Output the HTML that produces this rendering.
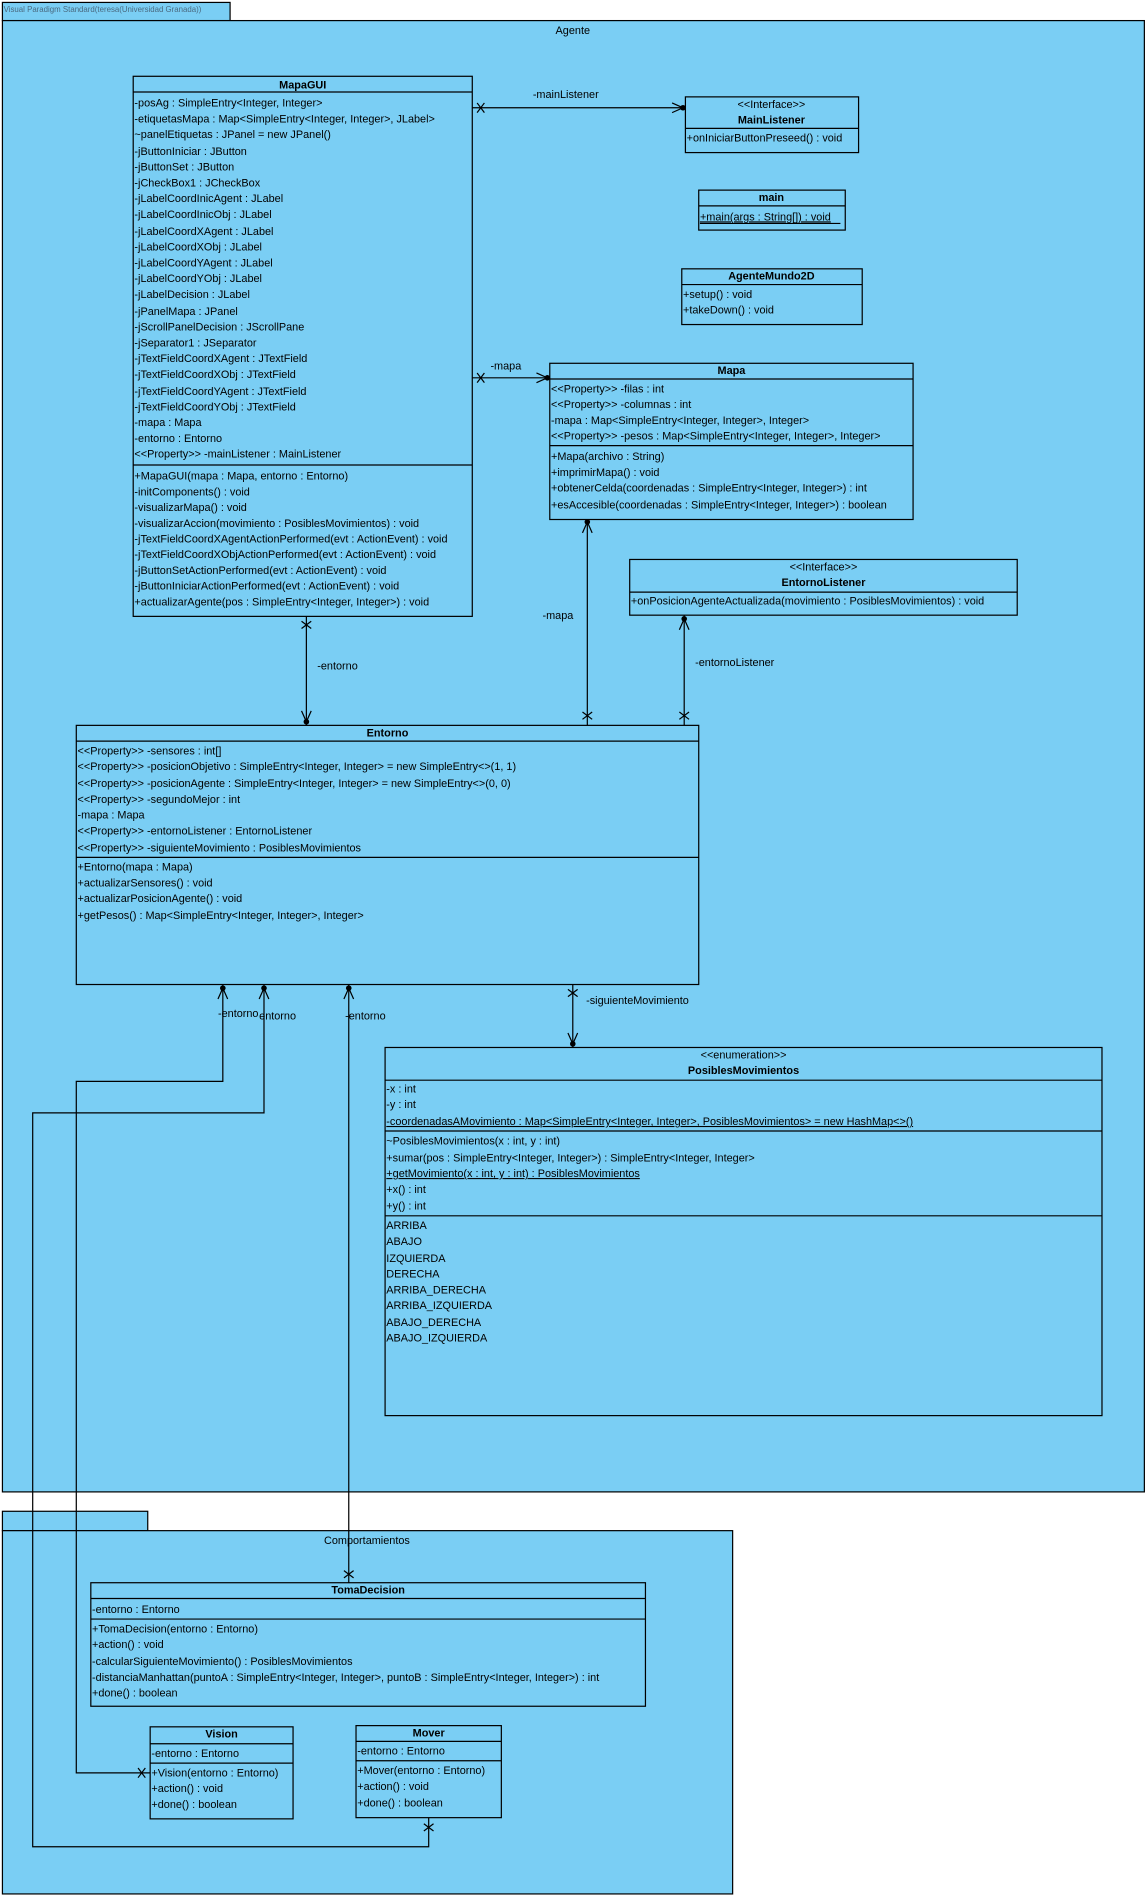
<!DOCTYPE html>
<html><head><meta charset="utf-8"><style>
html,body{margin:0;padding:0;background:#fff;}
svg{display:block;}
text{font-family:"Liberation Sans","DejaVu Sans",sans-serif;font-size:9px;fill:#000;}
.b{font-weight:bold;}
.m{text-anchor:middle;}
rect{fill:#7acef4;stroke:#000;stroke-width:1;}
line,polyline{stroke:#000;stroke-width:1;fill:none;}
</style></head><body>
<svg width="1148" height="1896" viewBox="0 0 948 1565.7" preserveAspectRatio="none" xmlns="http://www.w3.org/2000/svg">
<!-- Agente package -->
<rect x="2" y="2" width="188" height="15"/>
<text x="3" y="10" style="font-size:6.5px;fill:#4a6a80">Visual Paradigm Standard(teresa(Universidad Granada))</text>
<rect x="2" y="17" width="943" height="1215"/>
<text x="473" y="28" class="m">Agente</text>

<!-- MapaGUI -->
<rect x="110" y="63" width="280" height="446"/>
<line x1="110" y1="76" x2="390" y2="76"/>
<line x1="110" y1="384" x2="390" y2="384"/>
<text x="250" y="73" class="m b">MapaGUI</text>
<g transform="translate(111,0)">
<text y="88">-posAg : SimpleEntry&lt;Integer, Integer&gt;</text>
<text y="101">-etiquetasMapa : Map&lt;SimpleEntry&lt;Integer, Integer&gt;, JLabel&gt;</text>
<text y="114">~panelEtiquetas : JPanel = new JPanel()</text>
<text y="128">-jButtonIniciar : JButton</text>
<text y="141">-jButtonSet : JButton</text>
<text y="154">-jCheckBox1 : JCheckBox</text>
<text y="167">-jLabelCoordInicAgent : JLabel</text>
<text y="180">-jLabelCoordInicObj : JLabel</text>
<text y="194">-jLabelCoordXAgent : JLabel</text>
<text y="207">-jLabelCoordXObj : JLabel</text>
<text y="220">-jLabelCoordYAgent : JLabel</text>
<text y="233">-jLabelCoordYObj : JLabel</text>
<text y="246">-jLabelDecision : JLabel</text>
<text y="260">-jPanelMapa : JPanel</text>
<text y="273">-jScrollPanelDecision : JScrollPane</text>
<text y="286">-jSeparator1 : JSeparator</text>
<text y="299">-jTextFieldCoordXAgent : JTextField</text>
<text y="312">-jTextFieldCoordXObj : JTextField</text>
<text y="326">-jTextFieldCoordYAgent : JTextField</text>
<text y="339">-jTextFieldCoordYObj : JTextField</text>
<text y="352">-mapa : Mapa</text>
<text y="365">-entorno : Entorno</text>
<text y="378">&lt;&lt;Property&gt;&gt; -mainListener : MainListener</text>
<text y="396">+MapaGUI(mapa : Mapa, entorno : Entorno)</text>
<text y="409">-initComponents() : void</text>
<text y="422">-visualizarMapa() : void</text>
<text y="435">-visualizarAccion(movimiento : PosiblesMovimientos) : void</text>
<text y="448">-jTextFieldCoordXAgentActionPerformed(evt : ActionEvent) : void</text>
<text y="461">-jTextFieldCoordXObjActionPerformed(evt : ActionEvent) : void</text>
<text y="474">-jButtonSetActionPerformed(evt : ActionEvent) : void</text>
<text y="487">-jButtonIniciarActionPerformed(evt : ActionEvent) : void</text>
<text y="500">+actualizarAgente(pos : SimpleEntry&lt;Integer, Integer&gt;) : void</text>
</g>

<!-- MainListener -->
<rect x="566" y="80" width="143" height="46"/>
<line x1="566" y1="106" x2="709" y2="106"/>
<text x="637" y="89" class="m">&lt;&lt;Interface&gt;&gt;</text>
<text x="637" y="102" class="m b">MainListener</text>
<text x="567" y="117">+onIniciarButtonPreseed() : void</text>

<!-- main -->
<rect x="577" y="157" width="121" height="33"/>
<line x1="577" y1="170" x2="698" y2="170"/>
<text x="637" y="166" class="m b">main</text>
<text x="578" y="182" text-decoration="underline">+main(args : String[]) : void</text>
<line x1="578" y1="184.5" x2="694" y2="184.5"/>

<!-- AgenteMundo2D -->
<rect x="563" y="222" width="149" height="46"/>
<line x1="563" y1="235" x2="712" y2="235"/>
<text x="637" y="231" class="m b">AgenteMundo2D</text>
<text x="564" y="246">+setup() : void</text>
<text x="564" y="259">+takeDown() : void</text>

<!-- Mapa -->
<rect x="454" y="300" width="300" height="129"/>
<line x1="454" y1="313" x2="754" y2="313"/>
<line x1="454" y1="368" x2="754" y2="368"/>
<text x="604" y="309" class="m b">Mapa</text>
<g transform="translate(455,0)">
<text y="324">&lt;&lt;Property&gt;&gt; -filas : int</text>
<text y="337">&lt;&lt;Property&gt;&gt; -columnas : int</text>
<text y="350">-mapa : Map&lt;SimpleEntry&lt;Integer, Integer&gt;, Integer&gt;</text>
<text y="363">&lt;&lt;Property&gt;&gt; -pesos : Map&lt;SimpleEntry&lt;Integer, Integer&gt;, Integer&gt;</text>
<text y="380">+Mapa(archivo : String)</text>
<text y="393">+imprimirMapa() : void</text>
<text y="406">+obtenerCelda(coordenadas : SimpleEntry&lt;Integer, Integer&gt;) : int</text>
<text y="420">+esAccesible(coordenadas : SimpleEntry&lt;Integer, Integer&gt;) : boolean</text>
</g>

<!-- EntornoListener -->
<rect x="520" y="462" width="320" height="46"/>
<line x1="520" y1="489" x2="840" y2="489"/>
<text x="680" y="471" class="m">&lt;&lt;Interface&gt;&gt;</text>
<text x="680" y="484" class="m b">EntornoListener</text>
<text x="521" y="499">+onPosicionAgenteActualizada(movimiento : PosiblesMovimientos) : void</text>

<!-- Entorno -->
<rect x="63" y="599" width="514" height="214"/>
<line x1="63" y1="612" x2="577" y2="612"/>
<line x1="63" y1="708" x2="577" y2="708"/>
<text x="320" y="608" class="m b">Entorno</text>
<g transform="translate(64,0)">
<text y="623">&lt;&lt;Property&gt;&gt; -sensores : int[]</text>
<text y="636">&lt;&lt;Property&gt;&gt; -posicionObjetivo : SimpleEntry&lt;Integer, Integer&gt; = new SimpleEntry&lt;&gt;(1, 1)</text>
<text y="650">&lt;&lt;Property&gt;&gt; -posicionAgente : SimpleEntry&lt;Integer, Integer&gt; = new SimpleEntry&lt;&gt;(0, 0)</text>
<text y="663">&lt;&lt;Property&gt;&gt; -segundoMejor : int</text>
<text y="676">-mapa : Mapa</text>
<text y="689">&lt;&lt;Property&gt;&gt; -entornoListener : EntornoListener</text>
<text y="703">&lt;&lt;Property&gt;&gt; -siguienteMovimiento : PosiblesMovimientos</text>
<text y="719">+Entorno(mapa : Mapa)</text>
<text y="732">+actualizarSensores() : void</text>
<text y="745">+actualizarPosicionAgente() : void</text>
<text y="759">+getPesos() : Map&lt;SimpleEntry&lt;Integer, Integer&gt;, Integer&gt;</text>
</g>

<!-- PosiblesMovimientos -->
<rect x="318" y="865" width="592" height="304"/>
<line x1="318" y1="892" x2="910" y2="892"/>
<line x1="318" y1="934" x2="910" y2="934"/>
<line x1="318" y1="1004" x2="910" y2="1004"/>
<text x="614" y="874" class="m">&lt;&lt;enumeration&gt;&gt;</text>
<text x="614" y="887" class="m b">PosiblesMovimientos</text>
<g transform="translate(319,0)">
<text y="902">-x : int</text>
<text y="915">-y : int</text>
<text y="929" text-decoration="underline">-coordenadasAMovimiento : Map&lt;SimpleEntry&lt;Integer, Integer&gt;, PosiblesMovimientos&gt; = new HashMap&lt;&gt;()</text>
<text y="945">~PosiblesMovimientos(x : int, y : int)</text>
<text y="959">+sumar(pos : SimpleEntry&lt;Integer, Integer&gt;) : SimpleEntry&lt;Integer, Integer&gt;</text>
<text y="972" text-decoration="underline">+getMovimiento(x : int, y : int) : PosiblesMovimientos</text>
<text y="985">+x() : int</text>
<text y="999">+y() : int</text>
<text y="1015">ARRIBA</text>
<text y="1028">ABAJO</text>
<text y="1042">IZQUIERDA</text>
<text y="1055">DERECHA</text>
<text y="1068">ARRIBA_DERECHA</text>
<text y="1081">ARRIBA_IZQUIERDA</text>
<text y="1095">ABAJO_DERECHA</text>
<text y="1108">ABAJO_IZQUIERDA</text>
</g>

<!-- Comportamientos package -->
<rect x="2" y="1248" width="120" height="16"/>
<rect x="2" y="1264" width="603" height="300"/>
<text x="303" y="1275" class="m">Comportamientos</text>

<!-- TomaDecision -->
<rect x="75" y="1307" width="458" height="102"/>
<line x1="75" y1="1320" x2="533" y2="1320"/>
<line x1="75" y1="1337" x2="533" y2="1337"/>
<text x="304" y="1316" class="m b">TomaDecision</text>
<g transform="translate(76,0)">
<text y="1332">-entorno : Entorno</text>
<text y="1348">+TomaDecision(entorno : Entorno)</text>
<text y="1361">+action() : void</text>
<text y="1375">-calcularSiguienteMovimiento() : PosiblesMovimientos</text>
<text y="1388">-distanciaManhattan(puntoA : SimpleEntry&lt;Integer, Integer&gt;, puntoB : SimpleEntry&lt;Integer, Integer&gt;) : int</text>
<text y="1401">+done() : boolean</text>
</g>

<!-- Vision -->
<rect x="124" y="1426" width="118" height="76"/>
<line x1="124" y1="1440" x2="242" y2="1440"/>
<line x1="124" y1="1456" x2="242" y2="1456"/>
<text x="183" y="1435" class="m b">Vision</text>
<g transform="translate(125,0)">
<text y="1451">-entorno : Entorno</text>
<text y="1467">+Vision(entorno : Entorno)</text>
<text y="1480">+action() : void</text>
<text y="1493">+done() : boolean</text>
</g>

<!-- Mover -->
<rect x="294" y="1425" width="120" height="76"/>
<line x1="294" y1="1438" x2="414" y2="1438"/>
<line x1="294" y1="1454" x2="414" y2="1454"/>
<text x="354" y="1434" class="m b">Mover</text>
<g transform="translate(295,0)">
<text y="1449">-entorno : Entorno</text>
<text y="1465">+Mover(entorno : Entorno)</text>
<text y="1478">+action() : void</text>
<text y="1492">+done() : boolean</text>
</g>

<!-- Connectors -->
<!-- mainListener -->
<line x1="390" y1="89" x2="566" y2="89"/>
<line x1="394" y1="85" x2="400" y2="93"/><line x1="394" y1="93" x2="400" y2="85"/>
<polyline points="555,85 564,89 555,93"/><circle cx="564" cy="89" r="2.3"/>
<text x="440" y="81">-mainListener</text>
<!-- mapa horizontal -->
<line x1="390" y1="312" x2="454" y2="312"/>
<line x1="394" y1="308" x2="400" y2="316"/><line x1="394" y1="316" x2="400" y2="308"/>
<polyline points="443,308 452,312 443,316"/><circle cx="452" cy="312" r="2.3"/>
<text x="405" y="305">-mapa</text>
<!-- MapaGUI -> Entorno -->
<line x1="253" y1="509" x2="253" y2="599"/>
<line x1="249" y1="513" x2="257" y2="519"/><line x1="257" y1="513" x2="249" y2="519"/>
<polyline points="249,587 253,596 257,587"/><circle cx="253" cy="596" r="2.3"/>
<text x="262" y="553">-entorno</text>
<!-- Entorno -> Mapa -->
<line x1="485" y1="599" x2="485" y2="429"/>
<line x1="481" y1="588" x2="489" y2="594"/><line x1="489" y1="588" x2="481" y2="594"/>
<polyline points="481,440 485,431 489,440"/><circle cx="485" cy="431" r="2.3"/>
<text x="448" y="511">-mapa</text>
<!-- Entorno -> EntornoListener -->
<line x1="565" y1="599" x2="565" y2="508"/>
<line x1="561" y1="588" x2="569" y2="594"/><line x1="569" y1="588" x2="561" y2="594"/>
<polyline points="561,520 565,511 569,520"/><circle cx="565" cy="511" r="2.3"/>
<text x="574" y="550">-entornoListener</text>
<!-- Entorno -> PosiblesMovimientos -->
<line x1="473" y1="813" x2="473" y2="865"/>
<line x1="469" y1="817" x2="477" y2="823"/><line x1="477" y1="817" x2="469" y2="823"/>
<polyline points="469,853 473,862 477,853"/><circle cx="473" cy="862" r="2.3"/>
<text x="484" y="829">-siguienteMovimiento</text>
<!-- Vision -->
<polyline points="184,813 184,893 63,893 63,1464 124,1464"/>
<polyline points="180,825 184,816 188,825"/><circle cx="184" cy="816" r="2.3"/>
<line x1="114" y1="1460" x2="120" y2="1468"/><line x1="114" y1="1468" x2="120" y2="1460"/>
<text x="180" y="840">-entorno</text>
<!-- Mover -->
<polyline points="218,813 218,919 27,919 27,1525 354,1525 354,1501"/>
<polyline points="214,825 218,816 222,825"/><circle cx="218" cy="816" r="2.3"/>
<line x1="350" y1="1506" x2="358" y2="1512"/><line x1="358" y1="1506" x2="350" y2="1512"/>
<text x="214" y="842">entorno</text>
<!-- TomaDecision -->
<line x1="288" y1="813" x2="288" y2="1307"/>
<polyline points="284,825 288,816 292,825"/><circle cx="288" cy="816" r="2.3"/>
<line x1="284" y1="1297" x2="292" y2="1303"/><line x1="292" y1="1297" x2="284" y2="1303"/>
<text x="285" y="842">-entorno</text>
</svg>
</body></html>
